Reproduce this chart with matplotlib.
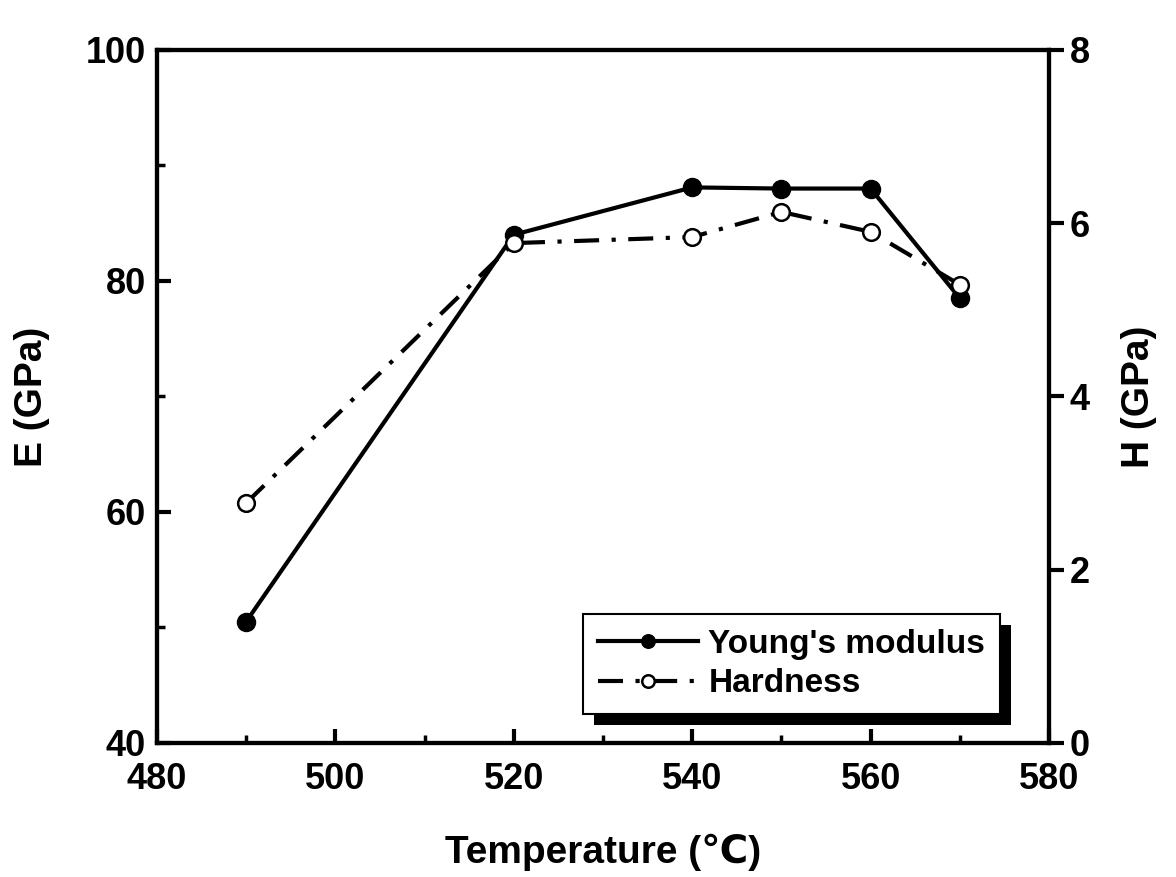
import matplotlib
matplotlib.use("Agg")
import matplotlib.pyplot as plt
import matplotlib.patheffects as pe
from matplotlib.ticker import MultipleLocator

# data
temperature = [490, 520, 540, 550, 560, 570]
youngs_modulus = [50.5, 84.0, 88.1, 88.0, 88.0, 78.5]   # E (GPa), left axis
hardness = [2.77, 5.77, 5.84, 6.13, 5.90, 5.29]          # H (GPa), right axis

FONT = ["Liberation Sans", "DejaVu Sans"]
plt.rcParams["font.family"] = FONT
plt.rcParams["font.weight"] = "bold"
plt.rcParams["axes.labelweight"] = "bold"


def main():
    fig = plt.figure(figsize=(11.76, 8.77), dpi=100)
    ax = fig.add_axes([0.1335, 0.153, 0.7585, 0.790])
    ax2 = ax.twinx()

    # Young's modulus on the left axis
    l1, = ax.plot(temperature, youngs_modulus, "-", color="k", lw=3,
                  marker="o", ms=13, mfc="k", mec="k",
                  label="Young's modulus")
    # Hardness on the right axis
    l2, = ax2.plot(temperature, hardness, color="k", lw=3,
                   linestyle=(0, (6, 3, 1, 3)),
                   marker="o", ms=12, mfc="white", mec="k", mew=1.8,
                   label="Hardness")

    ax.set_xlim(480, 580)
    ax.set_ylim(40, 100)
    ax2.set_ylim(0, 8)

    ax.xaxis.set_major_locator(MultipleLocator(20))
    ax.xaxis.set_minor_locator(MultipleLocator(10))
    ax.yaxis.set_major_locator(MultipleLocator(20))
    ax.yaxis.set_minor_locator(MultipleLocator(10))
    ax2.yaxis.set_major_locator(MultipleLocator(2))

    ax.tick_params(axis="both", which="major", direction="in", length=10,
                   width=3, labelsize=26, pad=8)
    ax.tick_params(axis="x", which="major", pad=14)
    ax.tick_params(axis="both", which="minor", direction="in", length=6,
                   width=2.5)
    ax.tick_params(axis="y", which="both", right=False)
    ax.tick_params(axis="x", which="both", top=False)
    ax2.tick_params(axis="y", which="major", direction="out", length=11,
                    width=3, labelsize=26, pad=4)

    for spine in ax.spines.values():
        spine.set_linewidth(3)
    for spine in ax2.spines.values():
        spine.set_linewidth(3)

    ax.set_xlabel("Temperature (\u2103)", fontsize=28, labelpad=26)
    ax.set_ylabel("E (GPa)", fontsize=28, labelpad=26)
    ax2.set_ylabel("H (GPa)", fontsize=28, labelpad=22)

    leg = ax2.legend(handles=[l1, l2], loc="upper left",
                     bbox_to_anchor=(0.478, 0.186), borderaxespad=0,
                     fontsize=24, handlelength=3.0, handletextpad=0.3,
                     borderpad=0.45, labelspacing=0.25, fancybox=False,
                     framealpha=1, edgecolor="k", markerscale=0.75)
    leg.get_frame().set_linewidth(1.5)
    leg.legendPatch.set_path_effects([
        pe.SimplePatchShadow(offset=(8, -8), shadow_rgbFace="k", alpha=1),
        pe.Normal()])

    fig.savefig("out.png", dpi=100)


if __name__ == "__main__":
    main()
